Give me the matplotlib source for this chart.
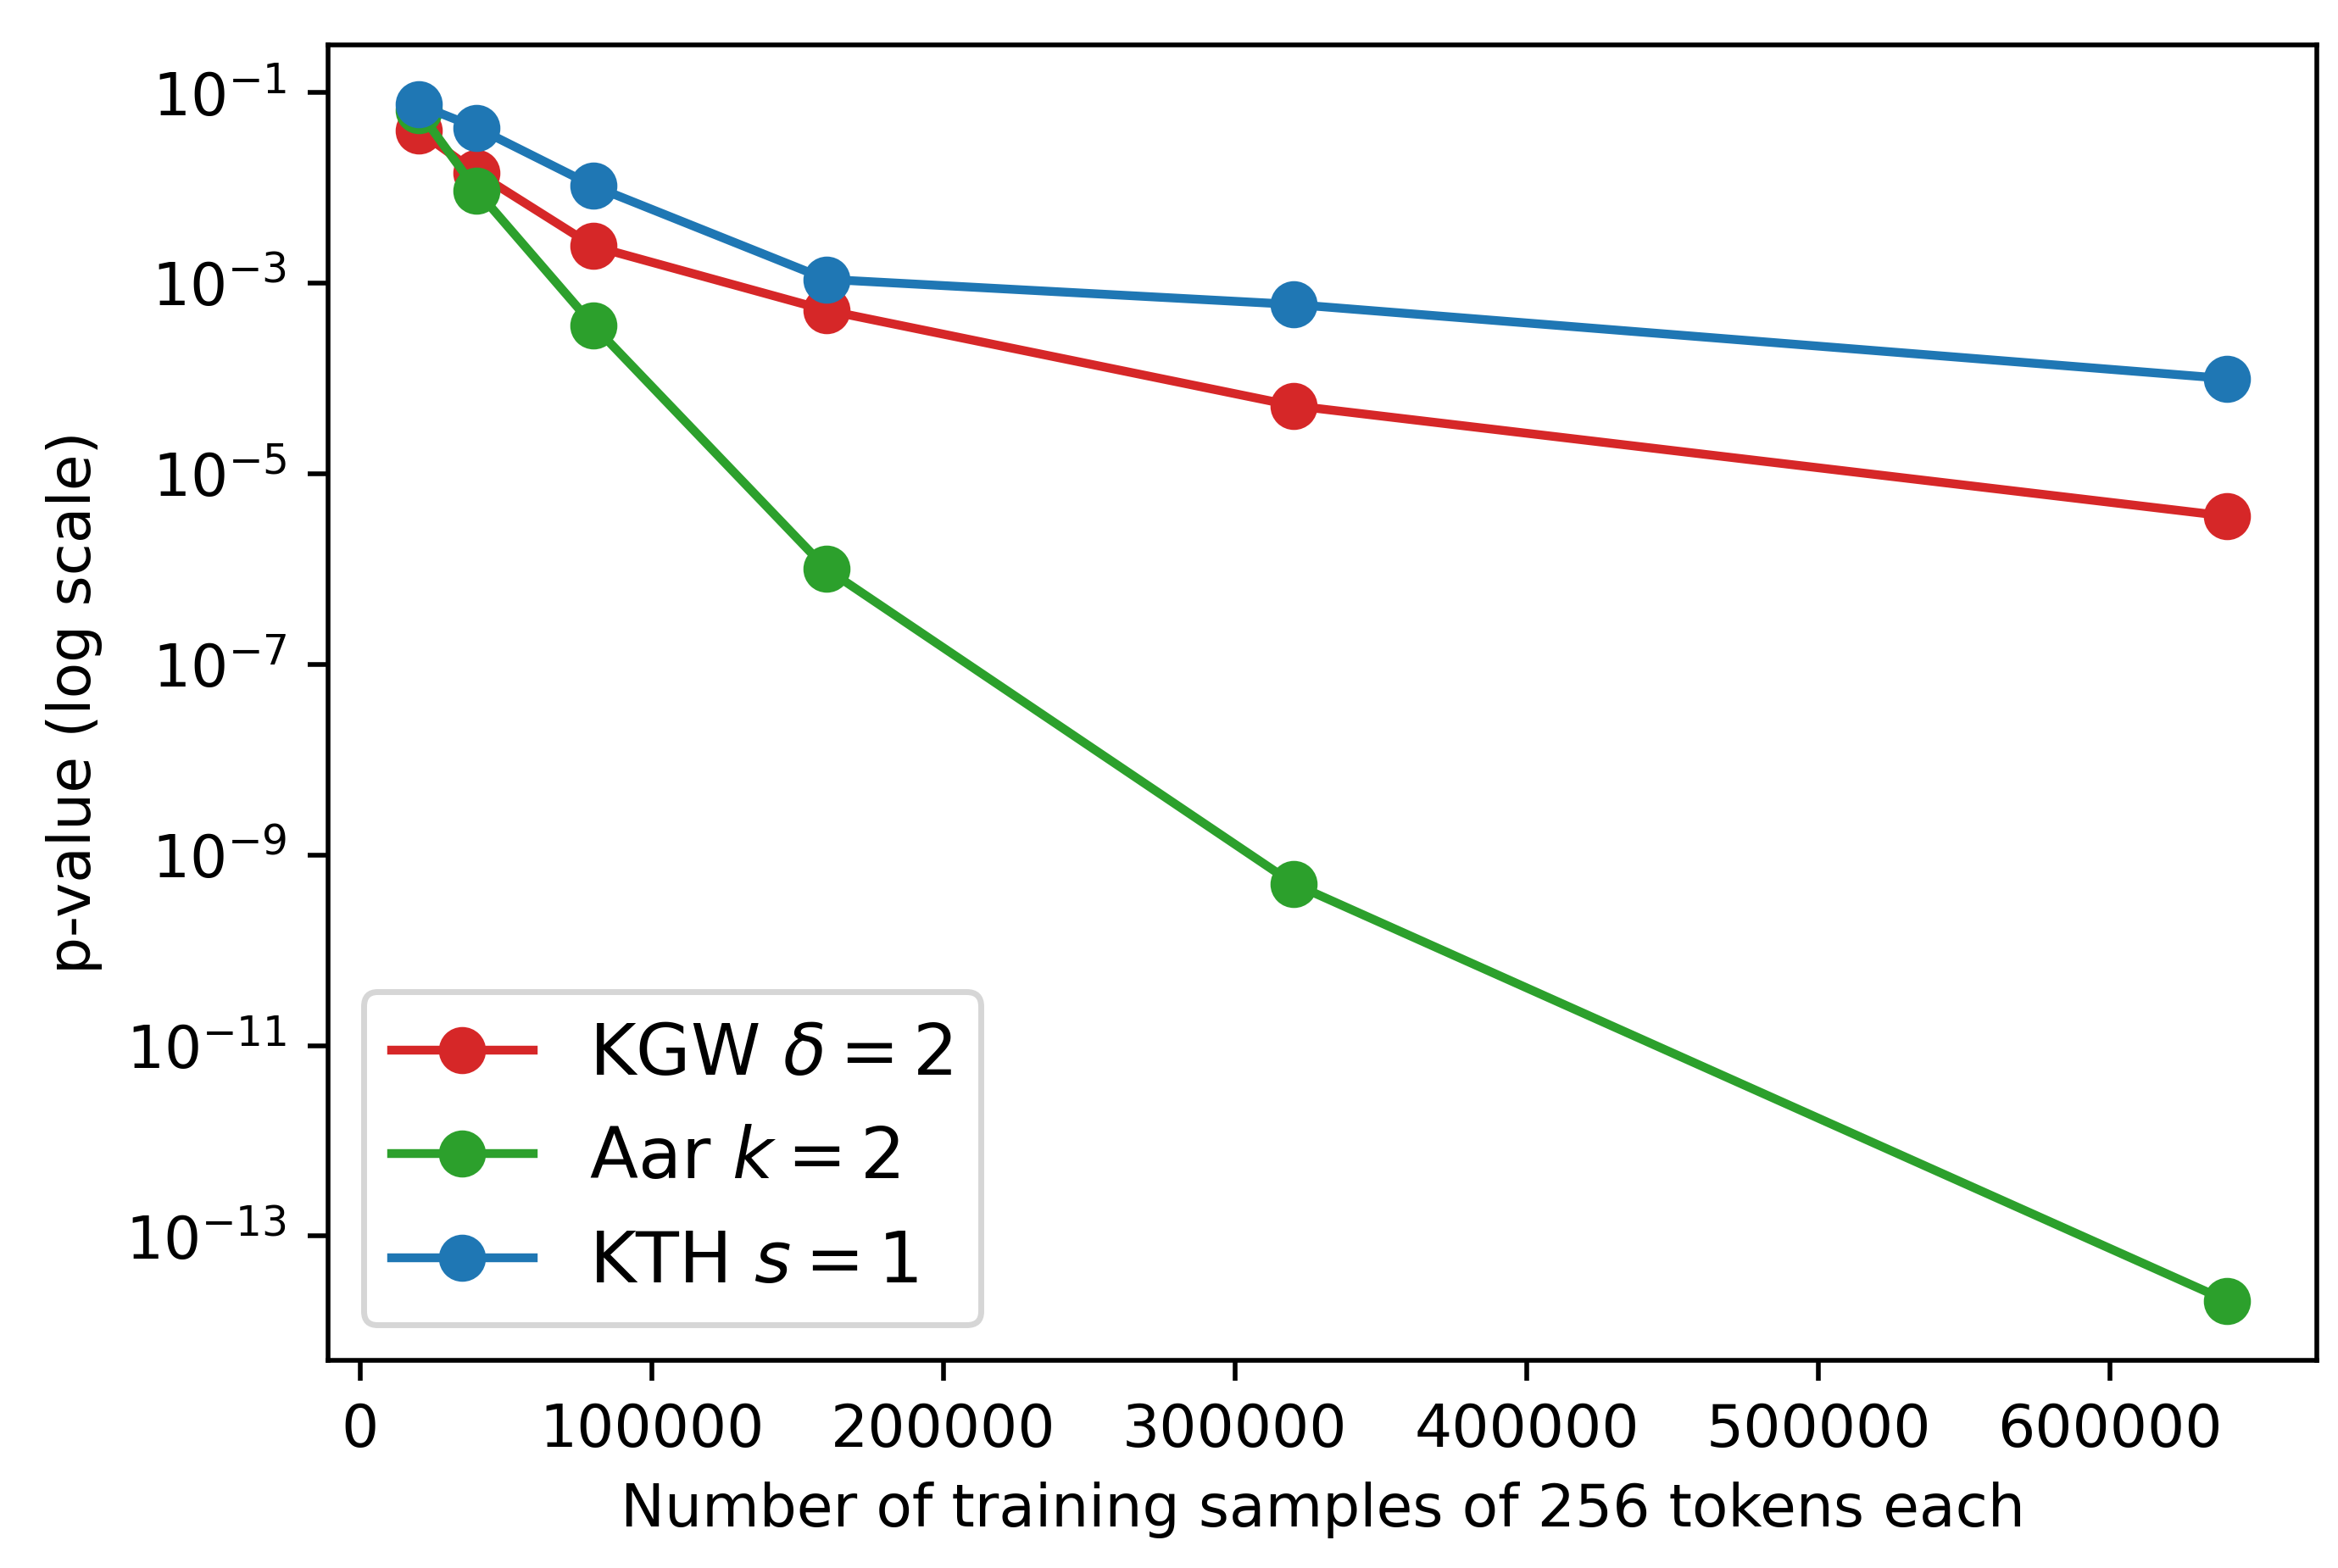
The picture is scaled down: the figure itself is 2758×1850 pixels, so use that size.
import numpy as np
import matplotlib
matplotlib.use("Agg")
import matplotlib.pyplot as plt
from matplotlib.ticker import NullLocator

n_samples = [20000, 40000, 80000, 160000, 320000, 640000]

kgw_p = [4.0e-2, 1.45e-2, 2.45e-3, 5.2e-4, 5.2e-5, 3.6e-6]
aar_p = [6.5e-2, 9.4e-3, 3.6e-4, 1.0e-6, 5.0e-10, 2.1e-14]
kth_p = [7.5e-2, 4.3e-2, 1.05e-2, 1.1e-3, 6.0e-4, 1.0e-4]

labels = [r'KGW $\delta = 2$', r'Aar $k = 2$', r'KTH $s = 1$']
ytick_vals = [1e-1, 1e-3, 1e-5, 1e-7, 1e-9, 1e-11, 1e-13]

fig = plt.figure(figsize=(2758 / 500, 1850 / 500), dpi=500)
ax = fig.add_axes([0.1403, 0.1324, 0.8507, 0.839])

ax.plot(n_samples, kgw_p, marker='o', color='tab:red', markersize=7, label=labels[0])
ax.plot(n_samples, aar_p, marker='o', color='tab:green', markersize=7, label=labels[1])
ax.plot(n_samples, kth_p, marker='o', color='tab:blue', markersize=7, label=labels[2])

ax.set_yscale('log')
ax.set_yticks(ytick_vals)
ax.yaxis.set_minor_locator(NullLocator())

ax.set_xlabel('Number of training samples of 256 tokens each')
ax.set_ylabel('p-value (log scale)')
ax.legend(loc='lower left', fontsize=12)

fig.savefig('out.png', dpi=500)
